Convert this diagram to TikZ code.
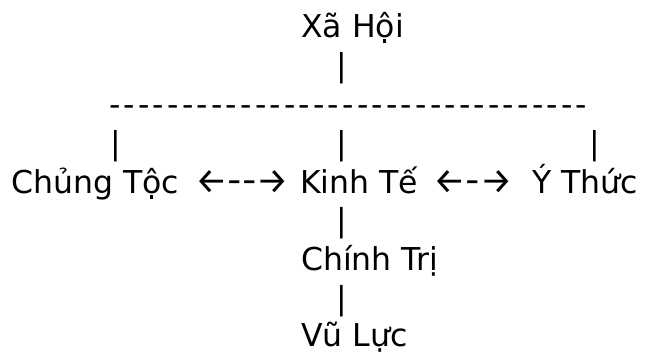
\documentclass[tikz,border=0pt]{standalone}
\usepackage{fontspec}
\newfontfamily\vfont{DejaVu Sans}[Ligatures=TeXOff]
\newfontfamily\afont{Fira Sans}[Ligatures=TeXOff]

\begin{document}
\begin{tikzpicture}[x=1pt,y=-1pt,
  txt/.style={font=\vfont\fontsize{31.5}{38}\selectfont,anchor=base west,inner sep=0pt},
  arr/.style={txt,font=\afont\fontsize{36}{38}\selectfont},
  bar/.style={txt,anchor=base}]
\useasboundingbox (0,0) rectangle (645,353);
% top
\node[txt] (xahoi) at (301,38) {Xã Hội};
\node[bar] (bar0) at (342,76.75) {|};
% dashes
\node[txt,font=\vfont\fontsize{31.5}{38}\selectfont\addfontfeatures{LetterSpace=10.2}] (dashes) at (109,115.5) {---------------------------------};
% bars
\node[bar] (barL) at (116,154.25) {|};
\node[bar] (barM) at (342,154.25) {|};
\node[bar] (barR) at (595,154.25) {|};
% row
\node[txt] (chungtoc) at (11,193) {Chủng Tộc};
\node[arr] (arrowL) at (195,193) {←--→};
\node[txt] (kinhte) at (300,193) {Kinh Tế};
\node[arr] (arrowR) at (433,193) {←-→};
\node[txt] (ythuc) at (532,193) {Ý Thức};
% down
\node[bar] (bar1) at (342,231.75) {|};
\node[txt] (chinhtri) at (301,270.5) {Chính Trị};
\node[bar] (bar2) at (342,309.25) {|};
\node[txt] (vuluc) at (301,346) {Vũ Lực};
\end{tikzpicture}
\end{document}
